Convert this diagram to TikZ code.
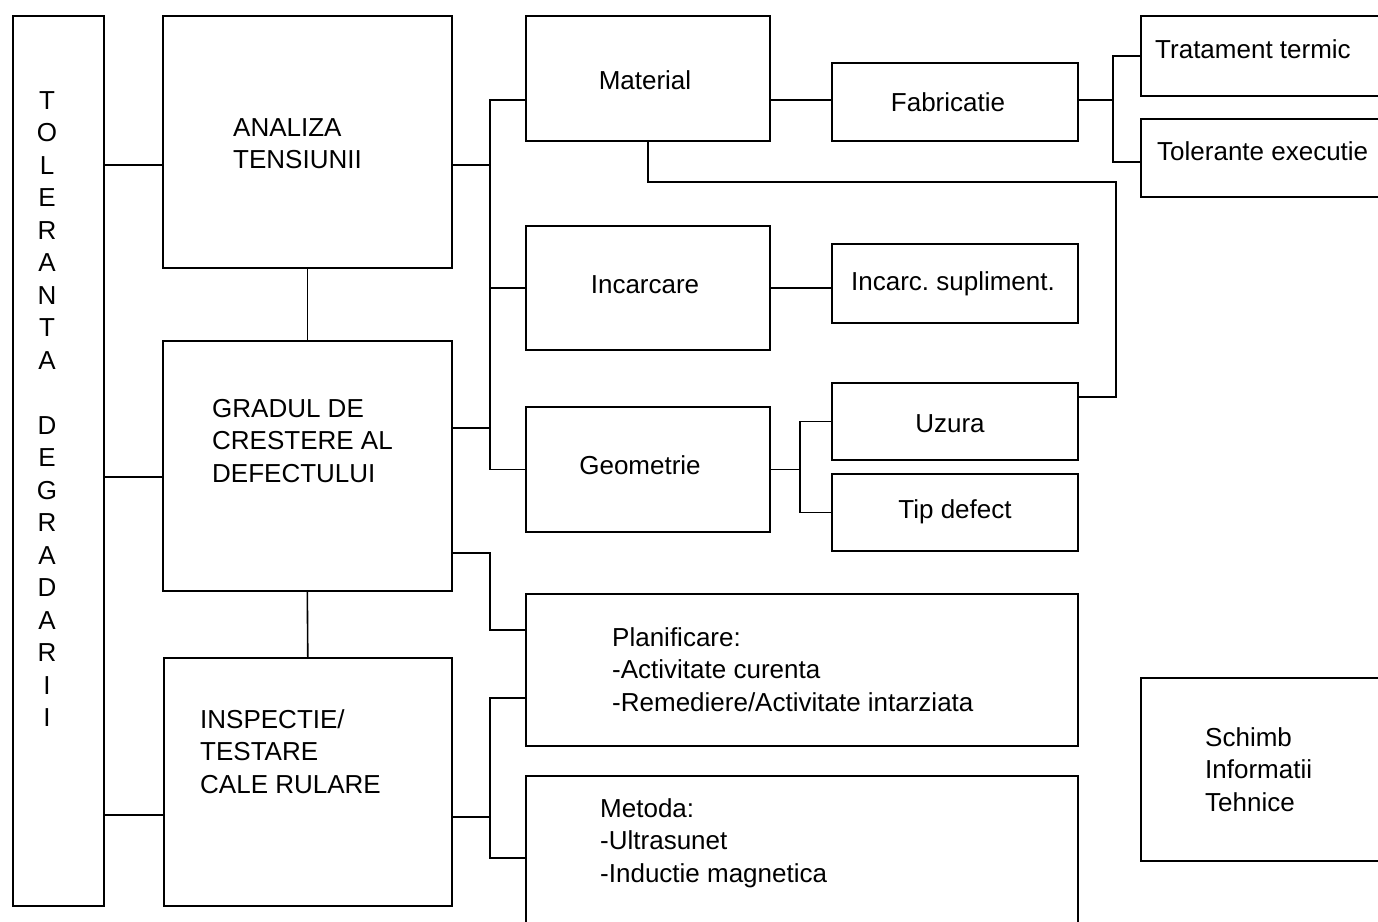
\documentclass[tikz,border=0pt]{standalone}
\usepackage{fontspec}
\setmainfont{Liberation Sans}
\frenchspacing
\begin{document}
\begin{tikzpicture}[x=1pt,y=-1pt,
  box/.style={draw, line width=1.6pt, inner sep=0pt, anchor=north west},
  conn/.style={line width=1.6pt},
  txt/.style={inner sep=0pt, font=\fontsize{26}{32.5}\selectfont},
  ltxt/.style={txt, anchor=north west, align=left},
  ctxt/.style={txt, anchor=base}]
\clip (0,0) rectangle (1378,921);
% boxes
\node[box, minimum width=91pt, minimum height=890pt] (tol) at (12,15) {};
\node[box, minimum width=289pt, minimum height=252pt] (an) at (162,15) {};
\node[box, minimum width=289pt, minimum height=250pt] (gr) at (162,340) {};
\node[box, minimum width=288pt, minimum height=248pt] (ins) at (163,657) {};
\node[box, minimum width=244pt, minimum height=125pt] (mat) at (525,15) {};
\node[box, minimum width=244pt, minimum height=124pt] (inc) at (525,225) {};
\node[box, minimum width=244pt, minimum height=125pt] (geo) at (525,406) {};
\node[box, minimum width=246pt, minimum height=78pt] (fab) at (831,62) {};
\node[box, minimum width=246pt, minimum height=79pt] (sup) at (831,243) {};
\node[box, minimum width=246pt, minimum height=77pt] (uz) at (831,382) {};
\node[box, minimum width=246pt, minimum height=77pt] (tip) at (831,473) {};
\node[box, minimum width=260pt, minimum height=80pt] (tr) at (1140,15) {};
\node[box, minimum width=260pt, minimum height=78pt] (tole) at (1140,118) {};
\node[box, minimum width=552pt, minimum height=152pt] (pl) at (525,593) {};
\node[box, minimum width=552pt, minimum height=160pt] (met) at (525,775) {};
\node[box, minimum width=260pt, minimum height=183pt] (sch) at (1140,677) {};
% texts
\node[txt, anchor=north, align=center] (toltxt) at (47,91) {T\\O\\L\\E\\R\\A\\N\\T\\A\\\mbox{}\\D\\E\\G\\R\\A\\D\\A\\R\\I\\I};
\node[ltxt] (antxt) at (233,118) {ANALIZA\\TENSIUNII};
\node[ltxt] (grtxt) at (212,399) {GRADUL DE\\CRESTERE AL\\DEFECTULUI};
\node[ltxt] (instxt) at (200,709) {INSPECTIE/\\TESTARE\\CALE RULARE};
\node[ltxt] (pltxt) at (612,627) {Planificare:\\-Activitate curenta\\-Remediere/Activitate intarziata};
\node[ltxt] (mettxt) at (600,798) {Metoda:\\-Ultrasunet\\-Inductie magnetica};
\node[ltxt] (schtxt) at (1205,727) {Schimb\\Informatii\\Tehnice};
\node[ltxt] (trtxt) at (1155,39) {Tratament termic};
\node[ltxt] (toletxt) at (1157,141) {Tolerante executie};
\node[ctxt] (mattxt) at (645,89) {Material};
\node[ctxt] (fabtxt) at (948,111) {Fabricatie};
\node[ctxt] (inctxt) at (645,293) {Incarcare};
\node[ctxt] (suptxt) at (953,290) {Incarc. supliment.};
\node[ctxt] (geotxt) at (640,474) {Geometrie};
\node[ctxt] (uztxt) at (950,432) {Uzura};
\node[ctxt] (tiptxt) at (955,518) {Tip defect};
% bus coordinates
\coordinate (bus) at (490,0);
\coordinate (fb) at (1113,0);
\coordinate (gb) at (800,0);
\coordinate (rb) at (1116,0);
% connectors
\draw[conn] (tol.east |- 0,165) -- (an.west |- 0,165);
\draw[conn] (tol.east |- 0,477) -- (gr.west |- 0,477);
\draw[conn] (tol.east |- 0,815) -- (ins.west |- 0,815);
\draw[conn] (an.south) -- (gr.north);
\draw[conn] (gr.south) -- (ins.north);
\draw[conn] (mat.west |- 0,100) -- (bus |- 0,100) -- (bus |- geo.west) -- (geo.west);
\draw[conn] (inc.west) -- (bus |- inc.west);
\draw[conn] (an.east |- 0,165) -- (bus |- 0,165);
\draw[conn] (gr.east |- 0,428) -- (bus |- 0,428);
\draw[conn] (mat.east |- 0,100) -- (fab.west |- 0,100);
\draw[conn] (fab.east |- 0,100) -- (fb |- 0,100);
\draw[conn] (tr.west |- 0,56) -- (fb |- 0,56) -- (fb |- 0,162) -- (tole.west |- 0,162);
\draw[conn] (mat.south) -- (mat.south |- 0,182) -- (rb |- 0,182) -- (rb |- 0,397) -- (uz.east |- 0,397);
\draw[conn] (inc.east) -- (sup.west |- inc.east);
\draw[conn] (geo.east) -- (gb |- geo.east);
\draw[conn] (uz.west) -- (gb |- uz.west) -- (gb |- tip.west) -- (tip.west);
\draw[conn] (gr.east |- 0,553) -- (bus |- 0,553) -- (bus |- 0,630) -- (pl.west |- 0,630);
\draw[conn] (pl.west |- 0,698) -- (bus |- 0,698) -- (bus |- 0,858) -- (met.west |- 0,858);
\draw[conn] (ins.east |- 0,817) -- (bus |- 0,817);
\end{tikzpicture}
\end{document}
